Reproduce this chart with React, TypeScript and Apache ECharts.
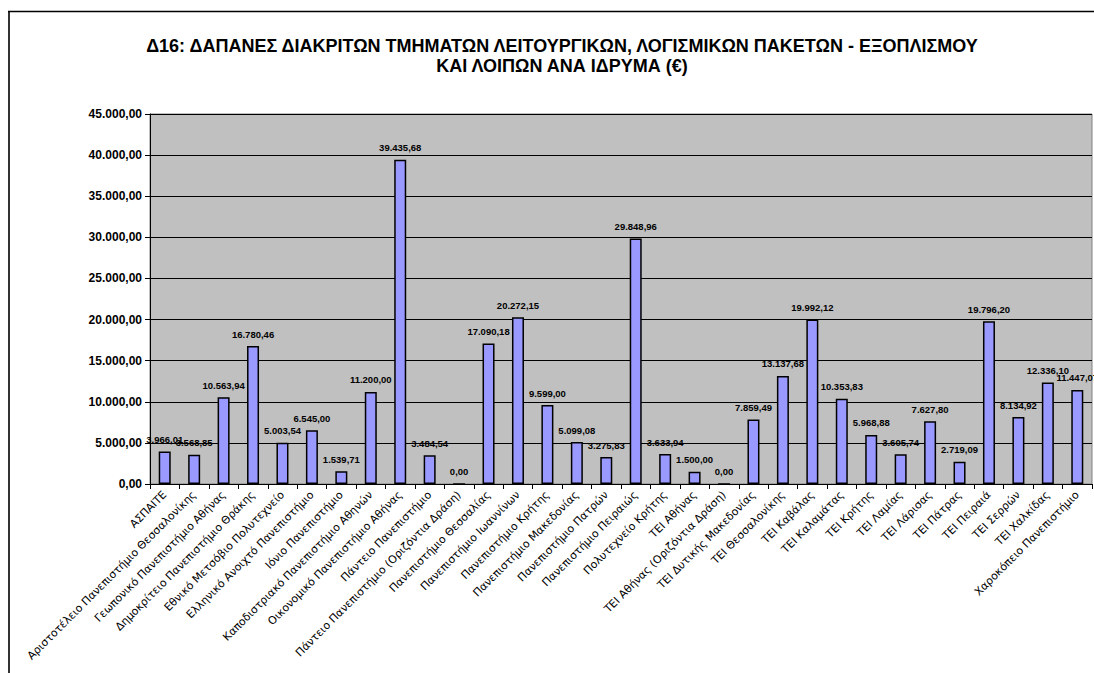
import React, { useEffect, useRef } from "react";
import * as echarts from "echarts";

const categories: string[] = [
  "ΑΣΠΑΙΤΕ",
  "Αριστοτέλειο Πανεπιστήμιο Θεσσαλονίκης",
  "Γεωπονικό Πανεπιστήμιο Αθήνας",
  "Δημοκρίτειο Πανεπιστήμιο Θράκης",
  "Εθνικό Μετσόβιο Πολυτεχνείο",
  "Ελληνικό Ανοιχτό Πανεπιστήμιο",
  "Ιόνιο Πανεπιστήμιο",
  "Καποδιστριακό Πανεπιστήμιο Αθηνών",
  "Οικονομικό Πανεπιστήμιο Αθήνας",
  "Πάντειο Πανεπιστήμιο",
  "Πάντειο Πανεπιστήμιο (Οριζόντια Δράση)",
  "Πανεπιστήμιο Θεσσαλίας",
  "Πανεπιστήμιο Ιωαννίνων",
  "Πανεπιστήμιο Κρήτης",
  "Πανεπιστήμιο Μακεδονίας",
  "Πανεπιστήμιο Πατρών",
  "Πανεπιστήμιο Πειραιώς",
  "Πολυτεχνείο Κρήτης",
  "ΤΕΙ Αθήνας",
  "ΤΕΙ Αθήνας (Οριζόντια Δράση)",
  "ΤΕΙ Δυτικής Μακεδονίας",
  "ΤΕΙ Θεσσαλονίκης",
  "ΤΕΙ Καβάλας",
  "ΤΕΙ Καλαμάτας",
  "ΤΕΙ Κρήτης",
  "ΤΕΙ Λαμίας",
  "ΤΕΙ Λάρισας",
  "ΤΕΙ Πάτρας",
  "ΤΕΙ Πειραιά",
  "ΤΕΙ Σερρών",
  "ΤΕΙ Χαλκίδας",
  "Χαροκόπειο Πανεπιστήμιο",
];

const values: number[] = [
  3966.01, 3568.85, 10563.94, 16780.46, 5003.54, 6545.0, 1539.71, 11200.0,
  39435.68, 3484.54, 0.0, 17090.18, 20272.15, 9599.0, 5099.08, 3275.83,
  29848.96, 3633.94, 1500.0, 0.0, 7859.49, 13137.68, 19992.12, 10353.83,
  5968.88, 3605.74, 7627.8, 2719.09, 19796.2, 8134.92, 12336.1, 11447.07,
];

const yMin = 0;
const yMax = 45000;
const yStep = 5000;

const titleText =
  "Δ16: ΔΑΠΑΝΕΣ ΔΙΑΚΡΙΤΩΝ ΤΜΗΜΑΤΩΝ ΛΕΙΤΟΥΡΓΙΚΩΝ, ΛΟΓΙΣΜΙΚΩΝ ΠΑΚΕΤΩΝ - ΕΞΟΠΛΙΣΜΟΥ\nΚΑΙ ΛΟΙΠΩΝ ΑΝΑ ΙΔΡΥΜΑ (€)";

function fmt(v: number): string {
  const [intPart, dec] = v.toFixed(2).split(".");
  const withDots = intPart.replace(/\B(?=(\d{3})+(?!\d))/g, ".");
  return withDots + "," + dec;
}

export default function App() {
  const ref = useRef<HTMLDivElement>(null);

  useEffect(() => {
    if (!ref.current) return;
    const chart = echarts.init(ref.current, null, { renderer: "svg" });
    chart.setOption({
      animation: false,
      backgroundColor: "#ffffff",
      title: {
        text: titleText,
        left: 557,
        top: 31,
        textAlign: "center",
        textStyle: {
          fontFamily: "Liberation Sans, Arial, sans-serif",
          fontSize: 18,
          fontWeight: "bold",
          color: "#000",
          lineHeight: 20,
        },
      },
      graphic: [
        {
          type: "line",
          shape: { x1: 9, y1: 11, x2: 9, y2: 673 },
          style: { stroke: "#333", lineWidth: 2 },
          silent: true,
        },
        {
          type: "line",
          shape: { x1: 8, y1: 11.5, x2: 1094, y2: 11.5 },
          style: { stroke: "#000", lineWidth: 1.5 },
          silent: true,
        },
      ],
      grid: {
        left: 150,
        right: 2,
        top: 114,
        bottom: 189,
        show: true,
        backgroundColor: "#C0C0C0",
        borderColor: "#808080",
        borderWidth: 1,
      },
      xAxis: {
        type: "category",
        data: categories,
        boundaryGap: true,
        axisLine: { show: true, lineStyle: { color: "#000", width: 1 } },
        axisTick: { show: true, length: 5, lineStyle: { color: "#000" } },
        axisLabel: {
          interval: 0,
          rotate: 45,
          margin: 9,
          fontFamily: "DejaVu Sans, Verdana, sans-serif",
          fontSize: 10.9,
          color: "#000",
        },
      },
      yAxis: {
        type: "value",
        min: yMin,
        max: yMax,
        interval: yStep,
        axisLine: { show: true, lineStyle: { color: "#000", width: 1 } },
        axisTick: { show: true, length: 5, lineStyle: { color: "#000" } },
        axisLabel: {
          formatter: (v: number) => fmt(v),
          fontFamily: "Liberation Sans, Arial, sans-serif",
          fontSize: 12,
          fontWeight: "bold",
          color: "#000",
          margin: 8,
        },
        splitLine: { show: true, lineStyle: { color: "#000", width: 1 } },
      },
      series: [
        {
          type: "bar",
          data: values,
          barWidth: 12,
          itemStyle: {
            color: "#9999FF",
            borderColor: "#000",
            borderWidth: 1.5,
          },
          label: {
            show: true,
            position: "top",
            distance: 7,
            formatter: (p: any) => fmt(p.value),
            fontFamily: "Liberation Sans, Arial, sans-serif",
            fontSize: 9.5,
            fontWeight: "bold",
            color: "#000",
          },
        },
      ],
    });
    return () => chart.dispose();
  }, []);

  return (
    <div
      ref={ref}
      style={{ position: "absolute", left: 0, top: 0, width: 1094, height: 673 }}
    />
  );
}
